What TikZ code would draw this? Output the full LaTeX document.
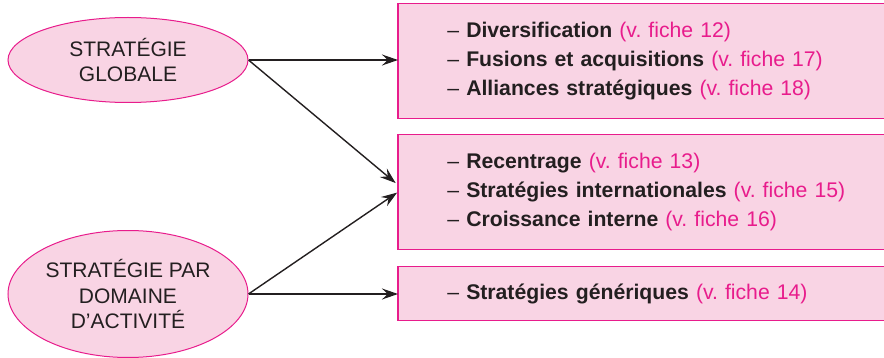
\documentclass[tikz,border=0pt]{standalone}
\usepackage{fontspec}
\setmainfont{Liberation Sans}
\usetikzlibrary{shapes.geometric,arrows.meta}

\definecolor{rose}{RGB}{249,212,228}
\definecolor{fuchsia}{RGB}{232,28,140}
\definecolor{ink}{RGB}{35,31,32}

\newcommand{\fiche}[1]{\textcolor{fuchsia}{(v.\ fiche #1)}}
\frenchspacing

\begin{document}
\begin{tikzpicture}[x=0.5pt, y=-0.5pt,
      >={Stealth[length=8pt, width=5.5pt, inset=2.8pt]},
      strat/.style={ellipse, draw=fuchsia, fill=rose, line width=0.5pt,
                    inner sep=0pt, minimum width=120pt, align=center,
                    text=ink, font=\fontsize{10.5}{12.8}\selectfont},
      choix/.style={rectangle, fill=rose, anchor=west, align=left,
                    text width=230pt, inner xsep=24.5pt, inner ysep=0pt,
                    text=ink, font=\fontsize{10.6}{14.4}\selectfont},
      cadre/.style={draw=fuchsia, line width=0.8pt},
      fleche/.style={->, line width=0.7pt, ink},
    ]
    \useasboundingbox (0,0) rectangle (884,358);
    \clip (0,0) rectangle (884,358);

    % Strategy levels
    \node[strat, minimum height=42.5pt] (glob) at (128,60)
      {STRATÉGIE\\GLOBALE};
    \node[strat, minimum height=63.5pt] (das) at (128,294)
      {STRATÉGIE PAR\\DOMAINE\\D’ACTIVITÉ};

    % Strategic options (boxes run off the right edge)
    \node[choix, minimum height=57pt] (opt1) at (398,61)
      {– \textbf{Diversification} \fiche{12}\\
       – \textbf{Fusions et acquisitions} \fiche{17}\\
       – \textbf{Alliances stratégiques} \fiche{18}};
    \node[choix, minimum height=57pt] (opt2) at (398,192)
      {– \textbf{Recentrage} \fiche{13}\\
       – \textbf{Stratégies internationales} \fiche{15}\\
       – \textbf{Croissance interne} \fiche{16}};
    \node[choix, minimum height=26.5pt] (opt3) at (398,293.5)
      {– \textbf{Stratégies génériques} \fiche{14}};
    \foreach \o in {opt1,opt2,opt3}
      \draw[cadre] (\o.north east) -- (\o.north west)
        -- (\o.south west) -- (\o.south east);

    % Links
    \draw[fleche] (glob.east) -- (glob.east -| opt1.west);
    \draw[fleche, shorten >=1.5pt] (glob.east) -- ([yshift=3.5pt]opt2.west);
    \draw[fleche, shorten >=0.5pt] (das.east) -- (opt2.west);
    \draw[fleche] (das.east) -- (das.east -| opt3.west);

  \end{tikzpicture}
\end{document}
